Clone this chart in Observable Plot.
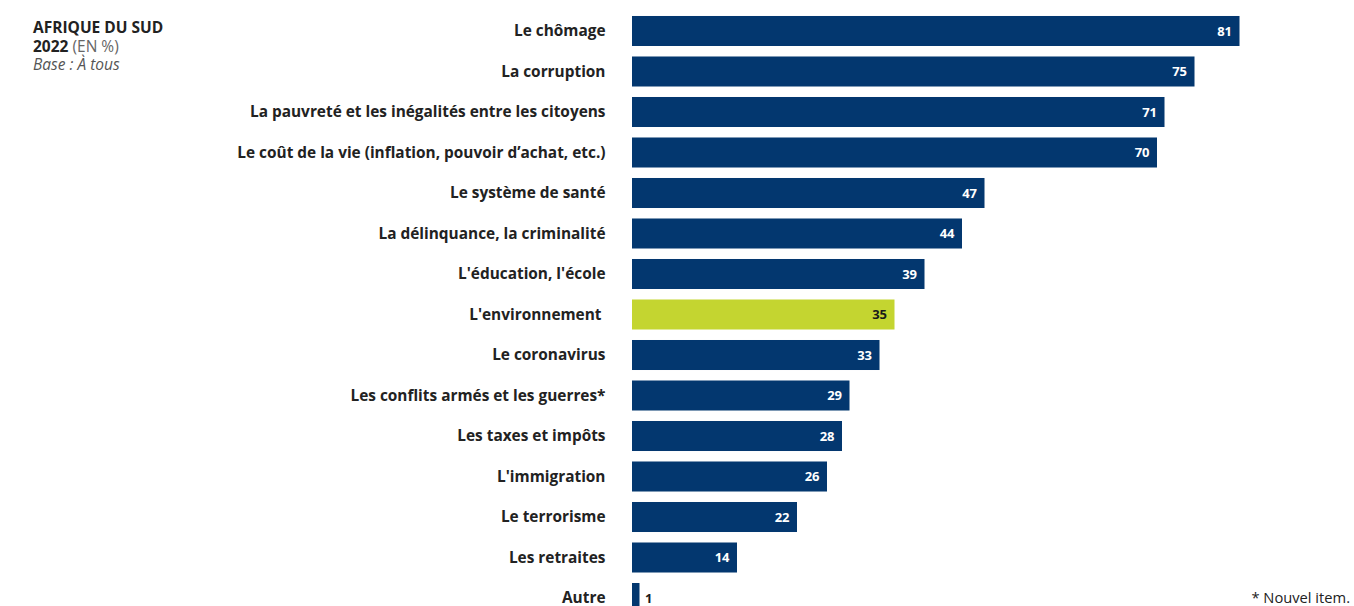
<!DOCTYPE html>
<html>
<head>
<meta charset="utf-8">
<script src="https://cdn.jsdelivr.net/npm/d3@7"></script>
<script src="https://cdn.jsdelivr.net/npm/@observablehq/plot@0.6"></script>
<style>
  html, body { margin: 0; padding: 0; background: #fff; width: 1354px; height: 606px; overflow: hidden; }
  body { position: relative; font-family: "Open Sans", sans-serif; }
  #title { position: absolute; left: 33px; top: 18px; font-size: 15.5px; line-height: 18.5px; color: #222; }
  #title .b { font-weight: 700; }
  #title .g { color: #666; }
  #title .i { font-style: italic; color: #555; }
  #note { position: absolute; right: 4px; top: 587px; font-size: 14.7px; color: #222; }
  #chart { position: absolute; left: 0; top: 0; }
</style>
</head>
<body>
<div id="title">
  <div class="b">AFRIQUE DU SUD</div>
  <div><span class="b">2022</span> <span class="g">(EN %)</span></div>
  <div class="i">Base : À tous</div>
</div>
<div id="chart"></div>
<div id="note">* Nouvel item.</div>
<script>
const categories = [
  "Le chômage",
  "La corruption",
  "La pauvreté et les inégalités entre les citoyens",
  "Le coût de la vie (inflation, pouvoir d’achat, etc.)",
  "Le système de santé",
  "La délinquance, la criminalité",
  "L'éducation, l'école",
  "L'environnement ",
  "Le coronavirus",
  "Les conflits armés et les guerres*",
  "Les taxes et impôts",
  "L'immigration",
  "Le terrorisme",
  "Les retraites",
  "Autre"
];
const values = [81, 75, 71, 70, 47, 44, 39, 35, 33, 29, 28, 26, 22, 14, 1];
const highlighted = ["L'environnement "];

const data = categories.map((c, i) => ({category: c, value: values[i], hl: highlighted.includes(c)}));

const navy = "#03376f";
const lime = "#c4d530";

const chart = Plot.plot({
  width: 1354,
  height: 606,
  marginLeft: 632,
  marginRight: 114.5,
  marginTop: 0,
  marginBottom: 0,
  style: {fontFamily: "Open Sans, sans-serif", background: "transparent"},
  x: {domain: [0, 81], axis: null},
  y: {domain: categories, range: [5.5, 623.5], padding: 0.259, round: false, label: null},
  marks: [
    Plot.barX(data, {x: "value", y: "category", fill: d => d.hl ? lime : navy}),
    Plot.axisY({tickSize: 0, tickPadding: 27, fontSize: 15.4, fontWeight: "bold", fill: "#222", label: null}),
    Plot.text(data.filter(d => d.value >= 5), {
      x: "value", y: "category", text: d => String(d.value),
      textAnchor: "end", dx: -8, fontSize: 13, fontWeight: "bold",
      fill: d => d.hl ? "#1a1a1a" : "#fff"
    }),
    Plot.text(data.filter(d => d.value < 5), {
      x: "value", y: "category", text: d => String(d.value),
      textAnchor: "start", dx: 5, fontSize: 13, fontWeight: "bold", fill: "#1a1a1a"
    })
  ]
});
document.getElementById("chart").appendChild(chart);
</script>
</body>
</html>
